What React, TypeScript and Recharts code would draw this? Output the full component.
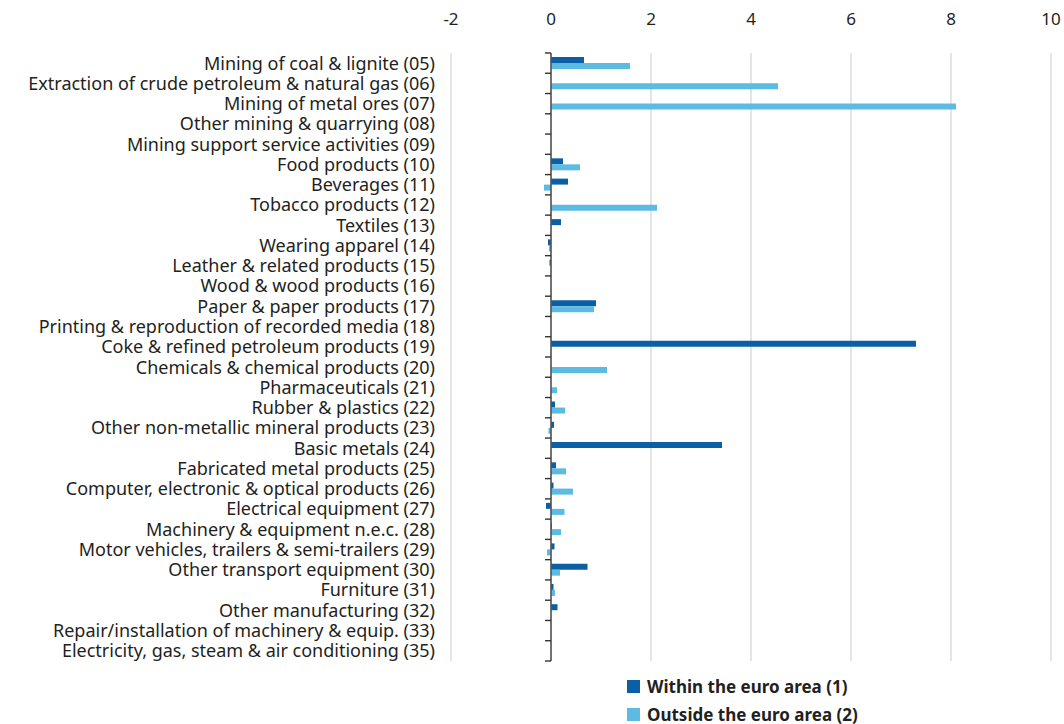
import { Bar, BarChart, CartesianGrid, ReferenceLine, XAxis, YAxis } from "recharts";

const categories = [
  "Mining of coal & lignite (05)",
  "Extraction of crude petroleum & natural gas (06)",
  "Mining of metal ores (07)",
  "Other mining & quarrying (08)",
  "Mining support service activities (09)",
  "Food products (10)",
  "Beverages (11)",
  "Tobacco products (12)",
  "Textiles (13)",
  "Wearing apparel (14)",
  "Leather & related products (15)",
  "Wood & wood products (16)",
  "Paper & paper products (17)",
  "Printing & reproduction of recorded media (18)",
  "Coke & refined petroleum products (19)",
  "Chemicals & chemical products (20)",
  "Pharmaceuticals (21)",
  "Rubber & plastics (22)",
  "Other non-metallic mineral products (23)",
  "Basic metals (24)",
  "Fabricated metal products (25)",
  "Computer, electronic & optical products (26)",
  "Electrical equipment (27)",
  "Machinery & equipment n.e.c. (28)",
  "Motor vehicles, trailers & semi-trailers (29)",
  "Other transport equipment (30)",
  "Furniture (31)",
  "Other manufacturing (32)",
  "Repair/installation of machinery & equip. (33)",
  "Electricity, gas, steam & air conditioning (35)",
];

const withinEuro = [
  0.66, 0, 0, 0, 0, 0.24, 0.34, 0, 0.2, -0.06, -0.03, 0, 0.9, 0, 7.3, 0, 0, 0.08, 0.06, 3.42,
  0.1, 0.05, -0.1, 0.02, 0.07, 0.73, 0.05, 0.13, 0, 0,
];

const outsideEuro = [
  1.58, 4.54, 8.1, 0, 0, 0.58, -0.14, 2.12, 0, -0.04, 0, 0, 0.86, 0, 0, 1.12, 0.12, 0.28, -0.05, 0,
  0.3, 0.44, 0.27, 0.2, -0.08, 0.18, 0.08, 0, 0, 0,
];

const xTicks = [-2, 0, 2, 4, 6, 8, 10];

const DARK = "#0b5fa5";
const LIGHT = "#5bbbe3";
const TEXT = "#231f20";
const FONT = "'Noto Sans', sans-serif";

const data = categories.map((name, i) => ({
  name,
  within: withinEuro[i],
  outside: outsideEuro[i],
}));

function LegendBox() {
  const items = [
    { label: "Within the euro area (1)", color: DARK },
    { label: "Outside the euro area (2)", color: LIGHT },
  ];
  return (
    <div
      style={{
        position: "absolute",
        left: 627,
        top: 672,
        fontFamily: FONT,
        fontWeight: 700,
        fontSize: 17,
        color: TEXT,
      }}
    >
      {items.map((it) => (
        <div key={it.label} style={{ display: "flex", alignItems: "center", height: 28 }}>
          <span style={{ width: 13, height: 13, background: it.color, marginRight: 7 }} />
          {it.label}
        </div>
      ))}
    </div>
  );
}

export default function App() {
  return (
    <div style={{ position: "absolute", left: 0, top: 0, width: 1064, height: 724, background: "#fff" }}>
      <BarChart
        width={1064}
        height={724}
        data={data}
        layout="vertical"
        margin={{ top: 0, right: 13, bottom: 63, left: 0 }}
        barSize={6}
        barGap={0}
      >
        <CartesianGrid horizontal={false} stroke="#d4d4d4" strokeWidth={1.2} />
        <XAxis
          type="number"
          orientation="top"
          domain={[-2, 10]}
          ticks={xTicks}
          axisLine={false}
          tickLine={false}
          height={53}
          tickMargin={22}
          tick={{ fontSize: 17, fill: TEXT, fontFamily: FONT }}
        />
        <YAxis
          type="category"
          dataKey="name"
          width={451}
          axisLine={false}
          tickLine={false}
          interval={0}
          tickMargin={10}
          tick={{ fontSize: 18, fill: TEXT, fontFamily: FONT }}
        />
        <ReferenceLine x={0} stroke="#555" strokeWidth={1.6} />
        {categories.map((c) => (
          <ReferenceLine
            key={c}
            position="start"
            segment={[
              { x: -0.12, y: c },
              { x: 0, y: c },
            ]}
            stroke="#333"
            strokeWidth={1.4}
          />
        ))}
        <ReferenceLine
          position="end"
          segment={[
            { x: -0.12, y: categories[categories.length - 1] },
            { x: 0, y: categories[categories.length - 1] },
          ]}
          stroke="#333"
          strokeWidth={1.4}
        />
        <Bar dataKey="within" fill={DARK} isAnimationActive={false} />
        <Bar dataKey="outside" fill={LIGHT} isAnimationActive={false} />
      </BarChart>
      <LegendBox />
    </div>
  );
}
